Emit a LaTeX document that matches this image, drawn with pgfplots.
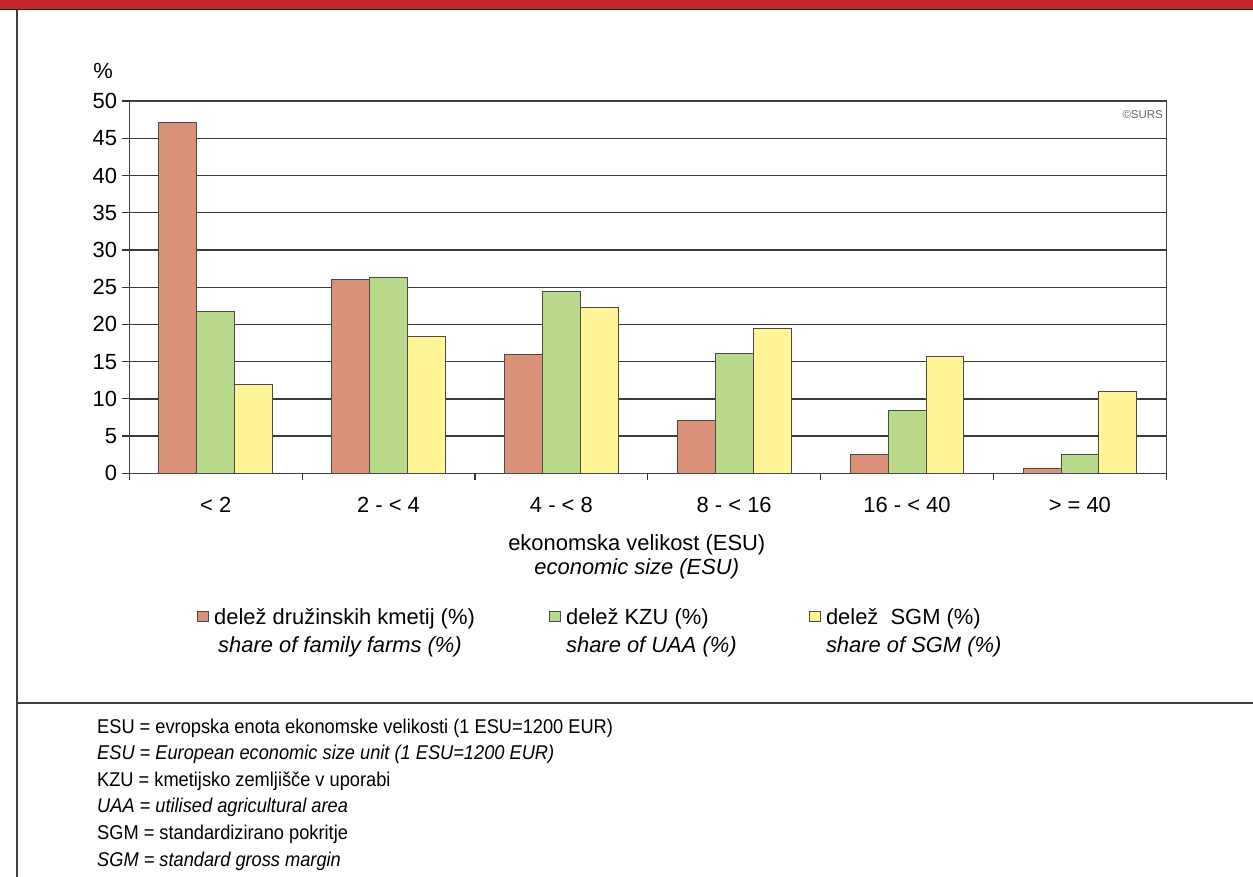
\documentclass[border=0pt]{standalone}
\usepackage{pgfplots}
\pgfplotsset{compat=1.18}
\usepackage{fontspec}
\setmainfont{Liberation Sans}
\newfontfamily\narrowfont{Liberation Sans}[FakeStretch=0.915]

\definecolor{sursred}{HTML}{C4262E}
\definecolor{barorange}{HTML}{DA917A}
\definecolor{bargreen}{HTML}{B9D98A}
\definecolor{baryellow}{HTML}{FFF596}
\definecolor{gridgray}{HTML}{3A3A3A}
\definecolor{edgegray}{HTML}{4A4A4A}

\pgfplotsset{sqleg/.style={legend image code/.code={%
  \draw[##1, line width=0.8bp] (0bp,2.5bp) rectangle (10.7bp,13.2bp);
  \path (0bp,0bp) (16bp,0bp);}}}

\begin{document}
\begin{tikzpicture}[x=1bp,y=-1bp]
\useasboundingbox (0,0) rectangle (1253,877);
% frame
\fill[sursred] (0,0) rectangle (1253,9);
\draw[line width=1.6bp, black!85] (0,9.5) -- (1253,9.5);
\draw[line width=1.4bp, black!75] (17,9.5) -- (17,877);
\draw[line width=1.4bp, black!75] (17,703) -- (1253,703);

\begin{axis}[
  at={(129.3bp,-473.3bp)}, anchor=south west,
  scale only axis, width=1037bp, height=372.3bp,
  ymin=0, ymax=50, ytick={0,5,...,50},
  xmin=-0.5, xmax=5.5,
  xtick={-0.5,0.5,...,5.5},
  xticklabels={{< 2},{2 - < 4},{4 - < 8},{8 - < 16},{16 - < 40},{> = 40},{}},
  xticklabel style={xshift=86.4bp, inner sep=0pt, yshift=-17bp},
  yticklabel style={inner sep=0pt, xshift=-5bp},
  tick align=outside, xtick pos=bottom, ytick pos=left,
  major tick length=7bp,
  tick style={line width=1.2bp, black!80},
  ymajorgrids, grid style={line width=1.3bp, gridgray},
  axis line style={line width=1.3bp, black!75},
  ticklabel style={font=\fontsize{22}{26}\selectfont},
  /pgf/number format/assume math mode=true,
  ybar=0pt, bar width=0.219,
  every axis plot post/.append style={sqleg},
  xlabel={ekonomska velikost (ESU)\\\textit{economic size (ESU)}},
  xlabel style={at={(axis description cs:0.4894,0)}, anchor=north,
    inner sep=0pt, yshift=-61bp, align=center,
    font=\fontsize{22}{24.4}\selectfont},
  legend columns=3,
  legend cell align=left,
  legend style={at={(axis description cs:0.0656,-0.3625)}, anchor=north west,
    draw=none, fill=none, inner sep=0pt, outer sep=0pt, column sep=0pt,
    font=\fontsize{22}{28}\selectfont, cells={anchor=base west},
    nodes={inner sep=0pt}},
]
\addplot[fill=barorange, draw=edgegray, line width=0.9bp]
  coordinates {(0,47.1) (1,26.0) (2,15.9) (3,7.1) (4,2.5) (5,0.7)};
\addplot[fill=bargreen, draw=edgegray, line width=0.9bp]
  coordinates {(0,21.8) (1,26.3) (2,24.4) (3,16.1) (4,8.4) (5,2.5)};
\addplot[fill=baryellow, draw=edgegray, line width=0.9bp]
  coordinates {(0,11.9) (1,18.4) (2,22.3) (3,19.5) (4,15.7) (5,11.0)};
\addlegendentry{\parbox[t]{335bp}{delež družinskih kmetij (\%)\\\hspace*{4bp}\textit{share of family farms (\%)}}}
\addlegendentry{\parbox[t]{243bp}{delež KZU (\%)\\\textit{share of UAA (\%)}}}
\addlegendentry{\parbox[t]{250bp}{delež \ SGM (\%)\\\textit{share of SGM (\%)}}}
\end{axis}

\node[anchor=base, inner sep=0pt, font=\fontsize{22}{26}\selectfont] at (103,78) {\%};
\node[anchor=base east, inner sep=0pt, text=black!60, font=\fontsize{11.5}{13}\selectfont] at (1163,118) {©SURS};

\begin{scope}[every node/.style={anchor=base west, inner sep=0pt, font=\narrowfont\fontsize{20}{24}\selectfont}]
\node at (97,733) {ESU = evropska enota ekonomske velikosti (1 ESU=1200 EUR)};
\node at (97,759.6) {\itshape ESU = European economic size unit (1 ESU=1200 EUR)};
\node at (97,786.2) {KZU = kmetijsko zemljišče v uporabi};
\node at (97,812.8) {\itshape UAA = utilised agricultural area};
\node at (97,839.4) {SGM = standardizirano pokritje};
\node at (97,866) {\itshape SGM = standard gross margin};
\end{scope}
\end{tikzpicture}
\end{document}
